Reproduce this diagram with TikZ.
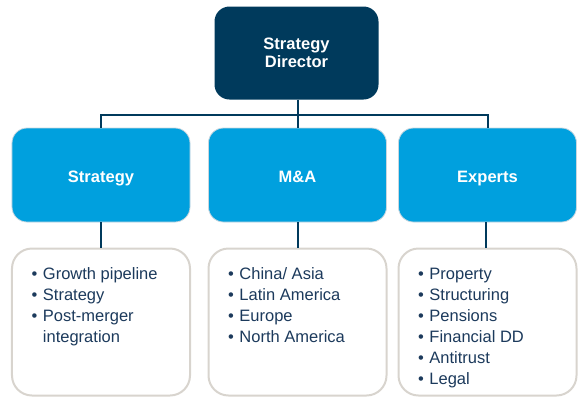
\documentclass[tikz,border=0pt]{standalone}
\usepackage{fontspec}
\setmainfont{Liberation Sans}
\usetikzlibrary{positioning}

\definecolor{navy}{RGB}{0,58,92}
\definecolor{skyblue}{RGB}{0,160,222}
\definecolor{listtext}{RGB}{28,58,92}
\definecolor{frame}{RGB}{216,212,206}

\tikzset{
  headbox/.style={rounded corners=15bp, fill=navy, text=white,
    font=\fontsize{16.5bp}{17.5bp}\selectfont\bfseries,
    minimum width=164bp, minimum height=93bp, align=center},
  teambox/.style={rounded corners=15bp, fill=skyblue, draw={rgb,255:red,200;green,214;blue,222},
    line width=0.8bp, text=white, font=\bfseries, text height=15bp, text depth=0pt,
    minimum width=178bp, minimum height=94bp},
  listbox/.style={rounded corners=20bp, draw=frame, line width=2bp, fill=white,
    minimum width=178bp, minimum height=147bp},
  listtxt/.style={anchor=base west, inner sep=0pt, text=listtext},
  link/.style={draw=navy, line width=2bp}
}

% bullet rows, one per line
\newcommand{\blt}{\textbullet\hspace{5.5bp}}

\begin{document}
\fontsize{16.5bp}{21bp}\selectfont
\begin{tikzpicture}[x=1bp,y=-1bp]
  \useasboundingbox (0,0) rectangle (583,397);

  %%%%% boxes %%%%%
  \node[headbox] (dir) at (296.5,53) {Strategy\\Director};

  \node[teambox] (strat) at (101,175) {Strategy};
  \node[teambox] (mna) at (297.5,175) {M\&A};
  \node[teambox] (exp) at (487.5,175) {Experts};

  \node[listbox] (stratlist) at (101,322) {};
  \node[listbox] (mnalist) at (297.5,322) {};
  \node[listbox] (explist) at (487.5,322) {};

  %%%%% lists %%%%%
  \node[listtxt] (stratitems) at (31.5,279) {\begin{tabular}[t]{@{}l@{}}
    \blt Growth pipeline\\
    \blt Strategy\\
    \blt Post-merger\\
    \phantom{\blt}integration
  \end{tabular}};
  \node[listtxt] (mnaitems) at (228,279) {\begin{tabular}[t]{@{}l@{}}
    \blt China/ Asia\\
    \blt Latin America\\
    \blt Europe\\
    \blt North America
  \end{tabular}};
  \node[listtxt] (expitems) at (418,279) {\begin{tabular}[t]{@{}l@{}}
    \blt Property\\
    \blt Structuring\\
    \blt Pensions\\
    \blt Financial DD\\
    \blt Antitrust\\
    \blt Legal
  \end{tabular}};

  %%%%% connectors %%%%%
  \coordinate (bus) at (297.5,114.5);
  \draw[link] (dir.south -| mna) -- (mna.north);
  \draw[link] (strat.north) -- (strat.north |- bus) -- (exp.north |- bus) -- (exp.north);
  \draw[link] (strat.south) -- (stratlist.north);
  \draw[link] (mna.south) -- (mnalist.north);
  \draw[link] ([xshift=-2bp]exp.south) -- ([xshift=-2bp]explist.north);
\end{tikzpicture}
\end{document}
